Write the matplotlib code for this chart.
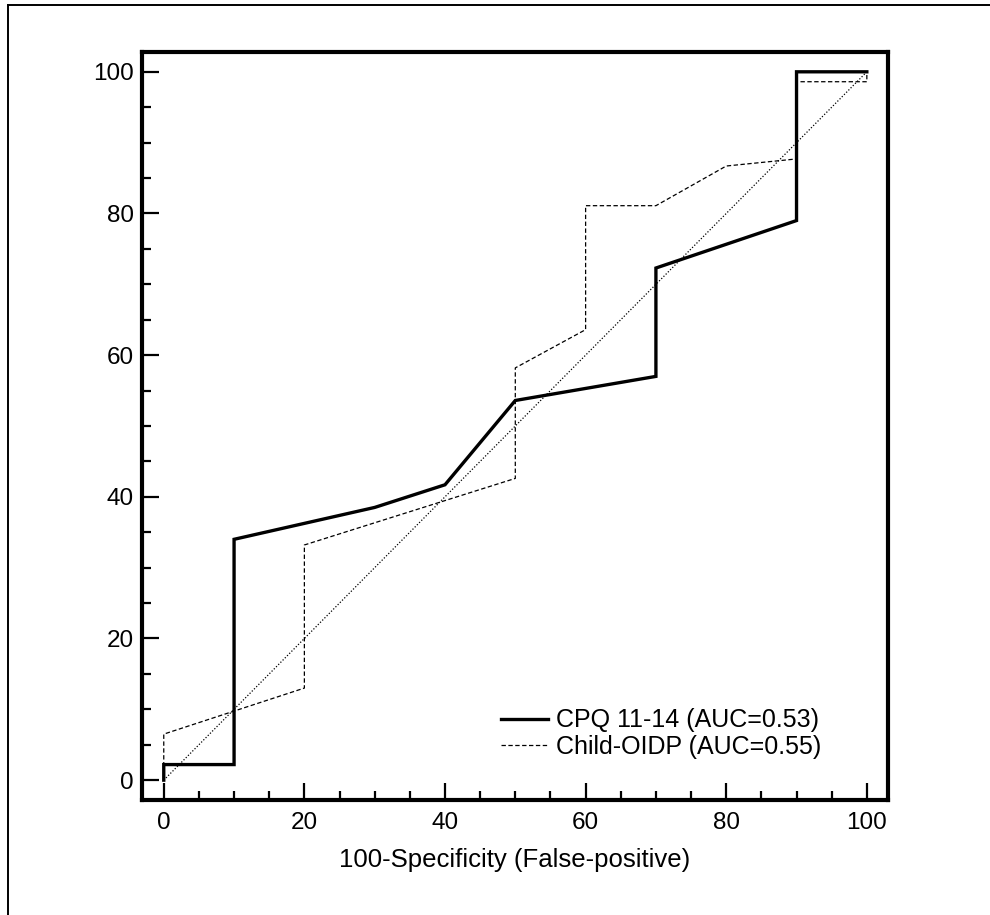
import matplotlib.pyplot as plt
from matplotlib.lines import Line2D
from matplotlib.ticker import MultipleLocator

plt.rcParams['font.family'] = ['Liberation Sans', 'DejaVu Sans']

# ROC data
cpq_x = [0, 0, 10, 10, 30, 40, 50, 70, 70, 90, 90, 100]
cpq_y = [0, 2.2, 2.2, 34, 38.5, 41.7, 53.6, 57, 72.3, 79, 100, 100]

oidp_x = [0, 0, 20, 20, 50, 50, 60, 60, 70, 80, 90, 90, 100, 100]
oidp_y = [0, 6.5, 13, 33.2, 42.6, 58.2, 63.6, 81.1, 81.1, 86.7, 87.7, 98.6, 98.6, 100]

ref_x = [0, 100]
ref_y = [0, 100]

cpq_label = 'CPQ 11-14 (AUC=0.53)'
oidp_label = 'Child-OIDP (AUC=0.55)'

fig = plt.figure(figsize=(9.9, 9.15), dpi=100)
ax = fig.add_axes([0.1434, 0.1257, 0.7535, 0.8175])

ax.plot(ref_x, ref_y, color='black', lw=0.9, linestyle=(0, (1, 1.5)))
ax.plot(cpq_x, cpq_y, color='black', lw=2.4, solid_joinstyle='miter', label=cpq_label)
ax.plot(oidp_x, oidp_y, color='black', lw=0.9, dashes=(3.5, 2), label=oidp_label)

ax.set_xlim(-3.1, 103)
ax.set_ylim(-2.8, 102.8)
ax.xaxis.set_major_locator(MultipleLocator(20))
ax.xaxis.set_minor_locator(MultipleLocator(5))
ax.yaxis.set_major_locator(MultipleLocator(20))
ax.yaxis.set_minor_locator(MultipleLocator(5))
ax.tick_params(which='both', direction='in', width=1.6, labelsize=17.5)
ax.tick_params(axis='x', which='both', pad=9)
ax.tick_params(axis='y', which='both', pad=6)
ax.tick_params(which='major', length=12)
ax.tick_params(which='minor', length=6.5)
for s in ax.spines.values():
    s.set_linewidth(3)

ax.set_xlabel('100-Specificity (False-positive)', fontsize=18.5, labelpad=10)

ax.legend(loc='lower right', bbox_to_anchor=(0.941, 0.025), frameon=False, fontsize=18,
          handlelength=1.9, handletextpad=0.32, labelspacing=0.1)

# outer frame (top and left only)
fig.add_artist(Line2D([8 / 990, 8 / 990], [0, 1 - 5 / 915], color='black', lw=1.4))
fig.add_artist(Line2D([8 / 990, 1], [1 - 5 / 915, 1 - 5 / 915], color='black', lw=1.4))

fig.savefig('out.png', dpi=100)
